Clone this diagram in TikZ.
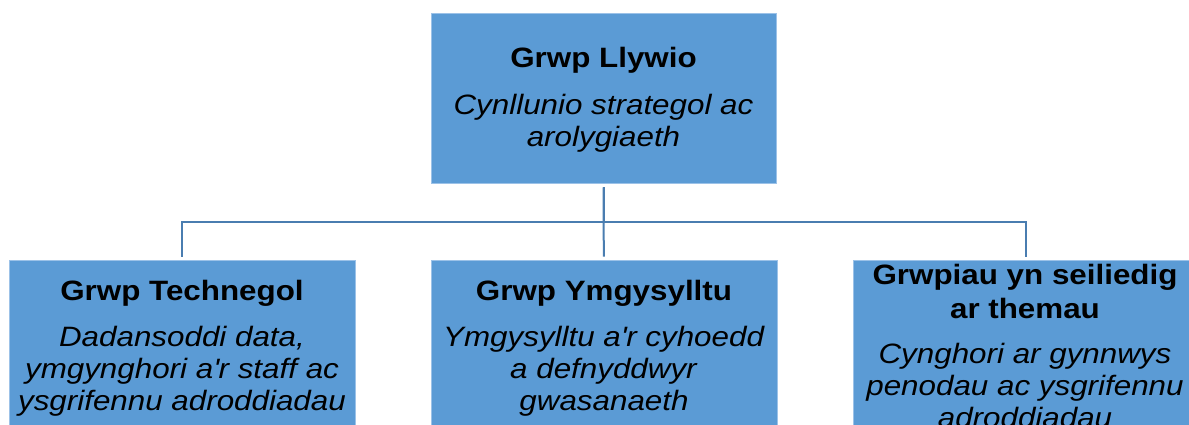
\documentclass[tikz,border=0pt]{standalone}
\usepackage{fontspec}
\setmainfont{Liberation Sans}[FakeStretch=1.12]
\definecolor{boxfill}{HTML}{5B9BD5}
\definecolor{boxedge}{HTML}{9CC2E8}
\definecolor{conncol}{HTML}{4A7DB0}
\begin{document}
\begin{tikzpicture}[x=1pt,y=-1pt,
  box/.style={draw=boxedge,line width=0.8pt,fill=boxfill,rectangle,inner sep=0pt},
  txt/.style={anchor=base,align=center,inner sep=0pt,font=\fontsize{28}{32}\selectfont},
  conn/.style={draw=conncol,line width=2pt,shorten <=4pt,shorten >=3pt}]
\useasboundingbox (0,0) rectangle (1189,425);
\clip (0,0) rectangle (1189,425);
\fill[white] (0,0) rectangle (1189,425);
% boxes
\node[box,minimum width=345pt,minimum height=170pt] (top) at (603.5,98) {};
\node[box,minimum width=346pt,minimum height=220pt] (left) at (182,370) {};
\node[box,minimum width=346pt,minimum height=220pt] (mid) at (604,370) {};
\node[box,minimum width=346pt,minimum height=220pt] (right) at (1026,370) {};
% texts (anchored at the baseline of their last line)
\node[txt] (toptext) at (603.5,147) {\textbf{Grwp Llywio}\\[15pt]\textit{Cynllunio strategol ac}\\\textit{arolygiaeth}};
\node[txt] (lefttext) at (182,410) {\textbf{Grwp Technegol}\\[14pt]\textit{Dadansoddi data,}\\\textit{ymgynghori a\textquotesingle r staff ac}\\\textit{ysgrifennu adroddiadau}};
\node[txt] (midtext) at (604,410) {\textbf{Grwp Ymgysylltu}\\[14pt]\textit{Ymgysylltu a\textquotesingle r cyhoedd}\\\textit{a defnyddwyr}\\\textit{gwasanaeth}};
\node[txt] (righttext) at (1025,427) {\textbf{Grwpiau yn seiliedig}\\[2pt]\textbf{ar themau}\\[13pt]\textit{Cynghori ar gynnwys}\\\textit{penodau ac ysgrifennu}\\\textit{adroddiadau}};
% connectors
\coordinate (hub) at (603.5,222);
\draw[conn] (top.south) -- (hub) -| (left.north);
\draw[conn] (top.south) -- (hub) -- (mid.north);
\draw[conn] (top.south) -- (hub) -| (right.north);
\end{tikzpicture}
\end{document}
